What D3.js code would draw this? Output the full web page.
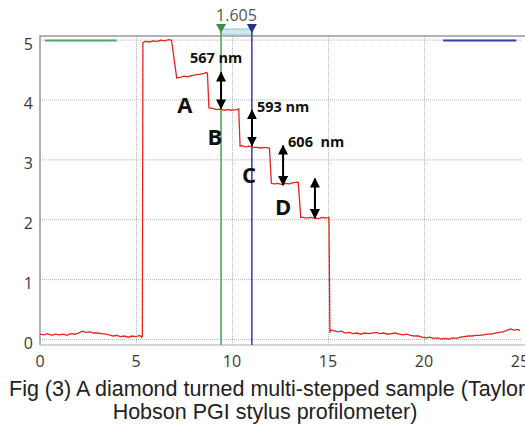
<!DOCTYPE html>
<html>
<head>
<meta charset="utf-8">
<script src="https://cdn.jsdelivr.net/npm/d3@7"></script>
<style>
  html, body { margin: 0; padding: 0; background: #fff; }
  svg { display: block; }
</style>
</head>
<body>
<svg id="chart" width="525" height="425"></svg>
<script>
// ---- data (x in mm, height in µm) ----
const profileX = [
  0.0,0.2,0.4,0.6,0.8,1.0,1.2,1.4,1.6,1.8,2.0,2.2,2.4,2.6,2.8,3.0,3.2,3.4,3.6,3.8,4.0,4.2,4.4,4.6,4.8,5.0,5.2,5.3,
  5.33,5.36,
  5.5,5.7,5.9,6.1,6.3,6.5,6.7,6.85,
  7.12,7.3,7.5,7.7,7.9,8.1,8.3,8.5,8.65,
  8.72,8.8,9.0,9.2,9.4,9.6,9.8,10.0,10.2,10.35,
  10.42,10.5,10.7,10.9,11.1,11.3,11.5,11.7,11.95,
  12.05,12.2,12.4,12.6,12.8,13.0,13.2,13.45,
  13.58,13.7,13.9,14.1,14.3,14.5,14.7,14.9,15.05,
  15.1,15.12,15.3,15.5,15.7,15.9,16.1,16.3,16.5,16.7,16.9,17.1,17.3,17.5,17.7,17.9,18.1,18.3,18.5,18.7,18.9,
  19.1,19.3,19.5,19.7,19.9,20.1,20.3,20.5,20.7,20.9,21.1,21.3,21.5,21.7,21.9,22.1,22.3,22.5,22.7,22.9,
  23.1,23.3,23.5,23.7,23.9,24.1,24.3,24.5,24.7,24.9,25.0
];
const profileY = [
  0.08,0.07,0.09,0.06,0.08,0.07,0.08,0.06,0.09,0.08,0.10,0.13,0.11,0.12,0.10,0.10,0.09,0.08,0.07,0.05,0.06,0.04,0.05,0.03,0.05,0.04,0.06,0.03,
  0.05,4.95,
  4.97,4.96,4.98,4.97,4.99,4.98,5.00,4.99,
  4.36,4.37,4.39,4.38,4.40,4.41,4.42,4.43,4.45,
  4.44,3.86,3.85,3.83,3.84,3.82,3.83,3.82,3.83,3.84,
  3.22,3.23,3.21,3.22,3.20,3.20,3.19,3.20,3.19,
  2.60,2.59,2.60,2.58,2.60,2.59,2.61,2.62,
  2.03,2.03,2.02,2.03,2.02,2.01,2.03,2.02,2.03,
  0.10,0.15,0.14,0.12,0.13,0.10,0.11,0.09,0.10,0.08,0.10,0.09,0.10,0.11,0.09,0.10,0.08,0.09,0.10,0.08,0.07,
  0.08,0.06,0.05,0.05,0.03,0.02,0.03,0.01,0.02,0.00,0.01,0.00,0.02,0.01,0.03,0.04,0.05,0.05,0.06,0.06,
  0.07,0.08,0.08,0.10,0.11,0.12,0.14,0.17,0.15,0.16,0.14
];
const xTicks = [0, 5, 10, 15, 20, 25];
const yTicks = [0, 1, 2, 3, 4, 5];
const cursorA = 9.43;      // green cursor (mm)
const cursorB = 11.035;    // blue cursor (mm)
const cursorLabel = "1.605";
const stepLabels = ["567 nm", "593 nm", "606  nm"];
const stepLabelX = [7.81, 11.3, 12.92];
const stepLabelY = [4.61, 3.79, 3.20];
const arrowX  = [9.43, 11.04, 12.66, 14.32];
const arrowY1 = [4.45, 3.82, 3.23, 2.68];
const arrowY2 = [3.85, 3.23, 2.57, 2.02];
const letters = ["A", "B", "C", "D"];
const letterX = [7.55, 9.11, 10.89, 12.66];
const letterY = [3.77, 3.24, 2.60, 2.07];
const caption1 = "Fig (3) A diamond turned multi-stepped sample (Taylor";
const caption2 = "Hobson PGI stylus profilometer)";

// ---- layout ----
const svg = d3.select("#chart");
const L = 40, T = 36, R = 521, B = 345;
const x = d3.scaleLinear().domain([0, 25]).range([L, 520]);
const y = d3.scaleLinear().domain([-0.1, 5.06]).range([B, T]);

// gridlines
const g = svg.append("g");
g.selectAll("line.hg").data(yTicks).join("line")
  .attr("x1", L).attr("x2", R)
  .attr("y1", d => y(d) + 0.5).attr("y2", d => y(d) + 0.5)
  .attr("stroke", "#b5b5b5").attr("stroke-width", 1).attr("stroke-dasharray", "1,1");
g.selectAll("line.vg").data(xTicks.filter(d => d > 0 && d < 25)).join("line")
  .attr("x1", d => x(d) + 0.5).attr("x2", d => x(d) + 0.5)
  .attr("y1", T).attr("y2", B)
  .attr("stroke", "#b5b5b5").attr("stroke-width", 1).attr("stroke-dasharray", "1,1");

// frame
svg.append("path")
  .attr("d", `M${L},${B}V${T}H${R + 4}`)
  .attr("fill", "none").attr("stroke", "#999").attr("stroke-width", 1.5);
svg.append("line").attr("x1", L).attr("x2", R + 4).attr("y1", B).attr("y2", B)
  .attr("stroke", "#aaa").attr("stroke-width", 1);

// tick labels
svg.selectAll("text.yt").data(yTicks).join("text")
  .attr("x", 33).attr("y", d => y(d) + 10)
  .attr("text-anchor", "end")
  .attr("font-family", "Open Sans").attr("font-size", 16).attr("fill", "#3a3a3a")
  .text(d => d);
svg.selectAll("text.xt").data(xTicks).join("text")
  .attr("x", d => x(d)).attr("y", 367)
  .attr("text-anchor", "middle")
  .attr("font-family", "Open Sans").attr("font-size", 16).attr("fill", "#3a3a3a")
  .text(d => d);

// top reference bars
svg.append("line").attr("x1", x(0.26)).attr("x2", x(4.0)).attr("y1", y(5) + 1).attr("y2", y(5) + 1)
  .attr("stroke", "#5aa468").attr("stroke-width", 2);
svg.append("line").attr("x1", x(21.0)).attr("x2", x(24.8)).attr("y1", y(5) + 1).attr("y2", y(5) + 1)
  .attr("stroke", "#3d3d9c").attr("stroke-width", 2);

// cursors
svg.append("rect")
  .attr("x", x(cursorA)).attr("y", 29).attr("width", x(cursorB) - x(cursorA)).attr("height", 6)
  .attr("fill", "#cfe9ef").attr("stroke", "#8fc3cf").attr("stroke-width", 1);
svg.append("line").attr("x1", x(cursorA)).attr("x2", x(cursorA)).attr("y1", 28).attr("y2", B)
  .attr("stroke", "#4c9f52").attr("stroke-width", 1.5);
svg.append("line").attr("x1", x(cursorB)).attr("x2", x(cursorB)).attr("y1", 28).attr("y2", B)
  .attr("stroke", "#3a3a98").attr("stroke-width", 1.5);
const tri = (cx, col) => svg.append("path")
  .attr("d", `M${cx - 5},24L${cx + 5},24L${cx},33Z`).attr("fill", col);
tri(x(cursorA), "#3c8f45");
tri(x(cursorB), "#2c2c8a");
svg.append("text")
  .attr("x", (x(cursorA) + x(cursorB)) / 2).attr("y", 21)
  .attr("text-anchor", "middle")
  .attr("font-family", "Open Sans").attr("font-size", 16).attr("fill", "#555")
  .text(cursorLabel);

// profile
const pts = profileX.map((v, i) => [v, profileY[i]]);
svg.append("path")
  .datum(pts)
  .attr("d", d3.line().x(d => x(d[0])).y(d => y(d[1])))
  .attr("fill", "none").attr("stroke", "#e8231c").attr("stroke-width", 1.3);

// arrows
const defs = svg.append("defs");
defs.append("marker").attr("id", "ah").attr("viewBox", "0 0 10 10")
  .attr("refX", 9).attr("refY", 5).attr("markerWidth", 10).attr("markerHeight", 10)
  .attr("markerUnits", "userSpaceOnUse").attr("orient", "auto-start-reverse")
  .append("path").attr("d", "M0,0L10,5L0,10Z").attr("fill", "#000");
svg.selectAll("line.arr").data(arrowX).join("line")
  .attr("x1", d => x(d)).attr("x2", d => x(d))
  .attr("y1", (d, i) => y(arrowY1[i])).attr("y2", (d, i) => y(arrowY2[i]))
  .attr("stroke", "#000").attr("stroke-width", 2)
  .attr("marker-start", "url(#ah)").attr("marker-end", "url(#ah)");

// step labels
svg.selectAll("text.sl").data(stepLabels).join("text")
  .attr("x", (d, i) => x(stepLabelX[i])).attr("y", (d, i) => y(stepLabelY[i]))
  .attr("font-family", "Open Sans").attr("font-weight", "bold").attr("font-size", 14.5)
  .attr("fill", "#111").style("white-space", "pre")
  .text(d => d);
svg.selectAll("text.lt").data(letters).join("text")
  .attr("x", (d, i) => x(letterX[i])).attr("y", (d, i) => y(letterY[i]))
  .attr("text-anchor", "middle")
  .attr("font-family", "Open Sans").attr("font-weight", "bold").attr("font-size", 22)
  .attr("fill", "#111")
  .text(d => d);

// caption
svg.append("text").attr("x", 9).attr("y", 396)
  .attr("font-family", "Liberation Sans").attr("font-size", 21.5).attr("fill", "#222")
  .text(caption1);
svg.append("text").attr("x", 265).attr("y", 419).attr("text-anchor", "middle")
  .attr("font-family", "Liberation Sans").attr("font-size", 21.5).attr("fill", "#222")
  .text(caption2);
</script>
</body>
</html>
